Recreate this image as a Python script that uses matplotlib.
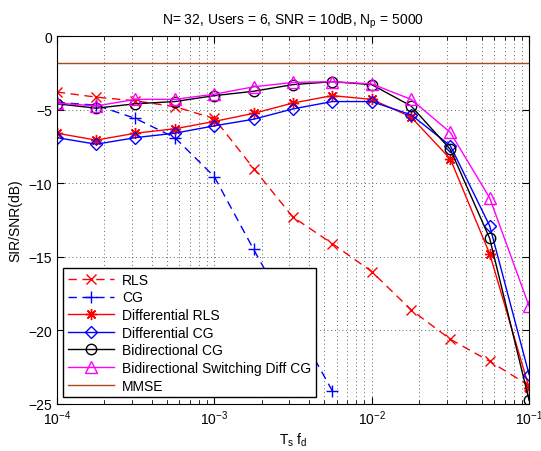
import numpy as np
import matplotlib
matplotlib.use("Agg")
import matplotlib.pyplot as plt
from matplotlib.ticker import LogLocator, NullFormatter

plt.rcParams['font.family'] = ['Liberation Sans', 'DejaVu Sans']
plt.rcParams['mathtext.default'] = 'regular'

x = [1e-4, 1.78e-4, 3.16e-4, 5.62e-4, 1e-3, 1.78e-3, 3.16e-3, 5.62e-3,
     1e-2, 1.78e-2, 3.16e-2, 5.62e-2, 1e-1]

rls = [-3.8, -4.15, -4.4, -4.8, -5.6, -9.0, -12.3, -14.1, -16.0, -18.6, -20.6, -22.1, -23.75]
cg = [-4.5, -4.7, -5.6, -6.9, -9.55, -14.5, -19.3, -24.1]
diff_rls = [-6.6, -7.07, -6.6, -6.3, -5.8, -5.25, -4.55, -4.05, -4.3, -5.5, -8.35, -14.8, -23.9]
diff_cg = [-6.9, -7.35, -6.9, -6.6, -6.1, -5.65, -4.95, -4.45, -4.45, -5.35, -7.45, -12.9, -23.0]
bidir_cg = [-4.6, -4.9, -4.6, -4.45, -4.05, -3.75, -3.3, -3.1, -3.3, -4.75, -7.7, -13.75, -24.75]
bsd_cg = [-4.55, -4.75, -4.3, -4.3, -3.95, -3.45, -3.15, -3.1, -3.25, -4.3, -6.55, -11.0, -18.35]
mmse = -1.85

labels = ['RLS', 'CG', 'Differential RLS', 'Differential CG', 'Bidirectional CG',
          'Bidirectional Switching Diff CG', 'MMSE']

fig = plt.figure(figsize=(5.41, 4.52), dpi=100)
ax = fig.add_axes([0.105, 0.104, 0.873, 0.814])

ax.plot(x, rls, color='#ff0000', marker='x', ms=7, mfc='none', lw=1, label=labels[0], dashes=(6, 4))
ax.plot(x[:len(cg)], cg, color='#0000ff', marker='+', ms=9, mfc='none', lw=1, label=labels[1], dashes=(6, 4))
ax.plot(x, diff_rls, '-', color='#ff0000', marker=(8, 2, 0), ms=8, mfc='none', lw=1, label=labels[2])
ax.plot(x, diff_cg, '-', color='#0000ff', marker='D', ms=6.5, mfc='none', lw=1, label=labels[3])
ax.plot(x, bidir_cg, '-', color='k', marker='o', ms=7.5, mfc='none', lw=1, label=labels[4])
ax.plot(x, bsd_cg, '-', color='#ff00ff', marker='^', ms=8.5, mfc='none', lw=1, label=labels[5])
ax.plot([x[0], x[-1]], [mmse, mmse], '-', color='#a84a1c', lw=1, label=labels[6])

ax.set_xscale('log')
ax.set_xlim(1e-4, 1e-1)
ax.set_ylim(-25, 0)
ax.set_yticks([-25, -20, -15, -10, -5, 0])
ax.xaxis.set_minor_locator(LogLocator(base=10, subs=np.arange(2, 10)))
ax.xaxis.set_minor_formatter(NullFormatter())
ax.grid(True, which='major', axis='both', linestyle=(0, (1, 3.5)), color='#333333', lw=0.6)
ax.grid(True, which='minor', axis='x', linestyle=(0, (1, 3.5)), color='#333333', lw=0.6)
ax.tick_params(which='both', direction='in', top=True, right=True, labelsize=10)
ax.tick_params(which='major', length=5)
ax.tick_params(which='minor', length=3)

ax.set_title('N= 32, Users = 6, SNR = 10dB, N$_p$ = 5000', fontsize=10, pad=9)
ax.set_xlabel('T$_s$ f$_d$', fontsize=10, labelpad=2)
ax.set_ylabel('SIR/SNR(dB)', fontsize=10)

leg = ax.legend(loc='lower left', fontsize=10, handlelength=3.3, labelspacing=0.26,
                borderpad=0.35, handletextpad=0.6, fancybox=False, framealpha=1, edgecolor='k',
                bbox_to_anchor=(0.013, 0.018), borderaxespad=0)
leg.get_frame().set_linewidth(1)

fig.savefig('out.png', dpi=100)
